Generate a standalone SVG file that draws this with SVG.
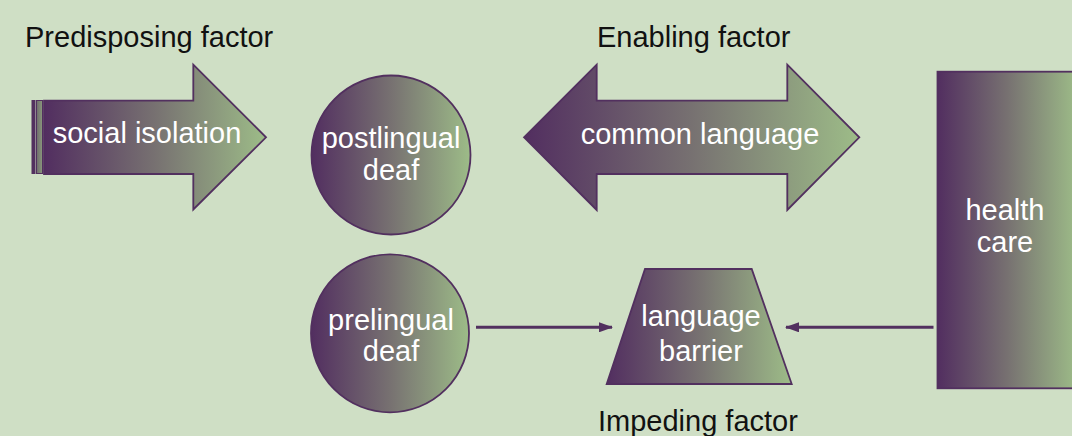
<svg xmlns="http://www.w3.org/2000/svg" width="1072" height="436" viewBox="0 0 1072 436">
  <defs>
    <linearGradient id="g" x1="0" y1="0" x2="1" y2="0">
      <stop offset="0" stop-color="#522e60"/>
      <stop offset="0.5" stop-color="#777171"/>
      <stop offset="1" stop-color="#9dbc88"/>
    </linearGradient>
    <linearGradient id="gs" x1="0" y1="0" x2="1" y2="0">
      <stop offset="0" stop-color="#6e6a6c"/>
      <stop offset="1" stop-color="#8a9a7c"/>
    </linearGradient>
    <marker id="ah" markerWidth="14" markerHeight="10" refX="13" refY="5" orient="auto" markerUnits="userSpaceOnUse">
      <path d="M0,0 L14,5 L0,10 Z" fill="#52305f"/>
    </marker>
  </defs>
  <style>
    .shape { fill: url(#g); stroke: #52305f; stroke-width: 1.8; }
    .lbl { font-family: "Liberation Sans", Arial, sans-serif; font-size: 29px; fill: #ffffff; text-anchor: middle; }
    .title { font-family: "Liberation Sans", Arial, sans-serif; font-size: 29px; fill: #111111; }
    .conn { stroke: #52305f; stroke-width: 3; fill: none; }
  </style>
  <rect width="1072" height="436" fill="#cfdfc5"/>

  <g id="title-predisposing"><text class="title" x="25" y="47">Predisposing factor</text></g>
  <g id="title-enabling"><text class="title" x="597" y="47">Enabling factor</text></g>
  <g id="title-impeding"><text class="title" x="598" y="431">Impeding factor</text></g>

  <g id="social-isolation">
    <rect x="32" y="100.5" width="3" height="73" fill="#52305f" stroke="#52305f" stroke-width="1"/>
    <rect x="36.5" y="100.5" width="6" height="73" fill="url(#gs)" stroke="#52305f" stroke-width="1"/>
    <path class="shape" d="M44,100.7 H193.3 V64.7 L266,137.3 L193.3,209.5 V174 H44 Z"/>
    <text class="lbl" x="147" y="143">social isolation</text>
  </g>

  <g id="postlingual-deaf">
    <circle class="shape" cx="391" cy="155" r="79.5"/>
    <text class="lbl" x="391" y="148">postlingual</text>
    <text class="lbl" x="391" y="180">deaf</text>
  </g>

  <g id="common-language">
    <path class="shape" d="M524,137.3 L596.7,64.7 V100.7 H787.3 V64.7 L859.3,137.3 L787.3,210 V174 H596.7 V210 Z"/>
    <text class="lbl" x="700" y="143.5">common language</text>
  </g>

  <g id="health-care">
    <rect class="shape" x="937.5" y="71.7" width="140" height="316.6"/>
    <text class="lbl" x="1005" y="219.5">health</text>
    <text class="lbl" x="1005" y="252">care</text>
  </g>

  <g id="prelingual-deaf">
    <circle class="shape" cx="390" cy="333.3" r="79"/>
    <text class="lbl" x="391" y="329.5">prelingual</text>
    <text class="lbl" x="391" y="361">deaf</text>
  </g>

  <g id="language-barrier">
    <path class="shape" d="M645,269 H751.7 L791.7,384 H606.7 Z"/>
    <text class="lbl" x="701" y="326">language</text>
    <text class="lbl" x="701" y="360.5">barrier</text>
  </g>

  <g id="connectors">
    <line class="conn" x1="476" y1="327.3" x2="612" y2="327.3" marker-end="url(#ah)"/>
    <line class="conn" x1="933.5" y1="327.3" x2="786" y2="327.3" marker-end="url(#ah)"/>
  </g>
</svg>
